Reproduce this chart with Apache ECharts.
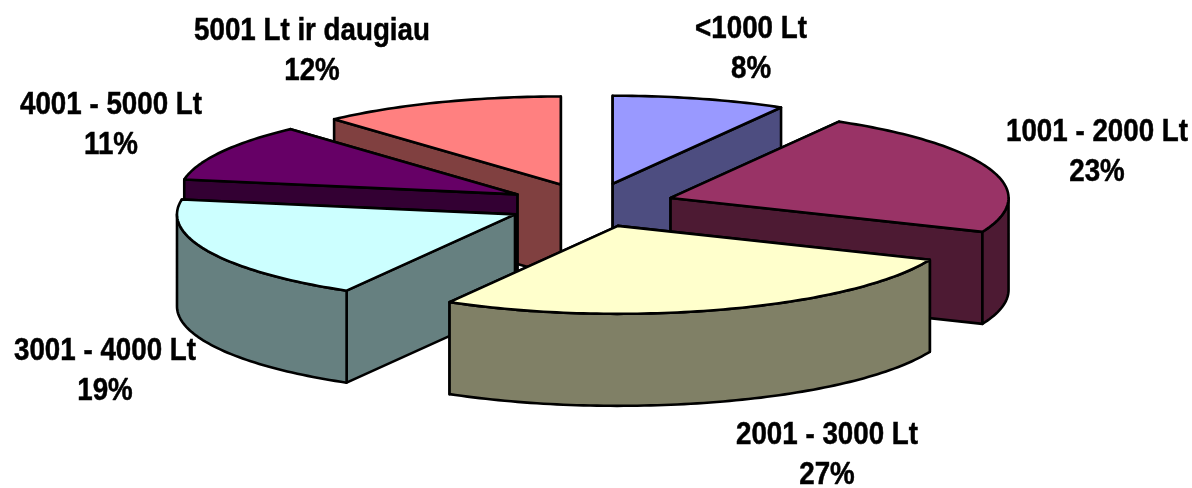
<!DOCTYPE html>
<html>
<head>
<meta charset="utf-8">
<style>html,body{margin:0;padding:0;background:#fff}#c{width:1192px;height:488px}</style>
<script src="https://cdn.jsdelivr.net/npm/echarts@6/dist/echarts.min.js"></script>
</head>
<body>
<div id="c"></div>
<script>
const categories = ['<1000 Lt', '1001 - 2000 Lt', '2001 - 3000 Lt', '3001 - 4000 Lt', '4001 - 5000 Lt', '5001 Lt ir daugiau'];
const shares = [8.3, 23.0, 27.0, 19.4, 10.6, 11.7];
const topColors = ['#9999FF', '#993366', '#FFFFCC', '#CCFFFF', '#660066', '#FF8080'];
const sideColors = ['#4D4D80', '#4D1A33', '#808066', '#668080', '#330033', '#804040'];

// Projection of the tilted, exploded pie
const cx = 591, cy = 205, rx = 338, ry = 88, depth = 92, explodeX = 84, explodeY = 22;
const labelCenters = [[751, 49], [1097, 152], [827, 455], [105, 371], [111, 125], [312, 51]];

const total = shares.reduce((a, b) => a + b, 0);
const starts = [];
shares.reduce((acc, v, i) => { starts[i] = acc; return acc + v; }, 0);
const rad = v => v / total * Math.PI * 2;

function apexOf(i) {
  const mid = rad(starts[i] + shares[i] / 2);
  return [cx + explodeX * Math.sin(mid), cy - explodeY * Math.cos(mid)];
}
const order = shares.map((_, i) => i).sort((a, b) => apexOf(a)[1] - apexOf(b)[1]);

function arc(apex, a0, a1, dy) {
  const pts = [];
  const n = Math.max(2, Math.ceil((a1 - a0) / 0.02));
  for (let k = 0; k <= n; k++) {
    const t = a0 + (a1 - a0) * k / n;
    pts.push([apex[0] + rx * Math.sin(t), apex[1] - ry * Math.cos(t) + dy]);
  }
  return pts;
}

function renderItem(params, api) {
  const i = params.dataIndex;
  const a0 = rad(starts[i]), a1 = rad(starts[i] + api.value(0));
  const apex = apexOf(i);
  const rank = order.indexOf(i);
  const top = arc(apex, a0, a1, 0);
  const first = top[0], last = top[top.length - 1];
  const drop = p => [p[0], p[1] + depth];
  const style = fill => ({ fill, stroke: '#000', lineWidth: 2.6, lineJoin: 'round' });
  const children = [];
  let z = rank * 10;
  const add = (points, fill) => children.push({
    type: 'polygon', z2: z++, shape: { points }, style: style(fill), silent: true
  });
  // Cut faces: the one whose rim point sits lower on screen faces the viewer, draw it last
  const edges = first[1] < last[1] ? [first, last] : [last, first];
  edges.forEach(p => add([apex, p, drop(p), drop(apex)], sideColors[i]));
  const w0 = Math.max(a0, Math.PI / 2), w1 = Math.min(a1, Math.PI * 1.5);
  if (w1 > w0) {
    const up = arc(apex, w0, w1, 0);
    const down = arc(apex, w0, w1, depth).reverse();
    add(up.concat(down), sideColors[i]);
  }
  add([apex].concat(top), topColors[i]);
  children.push({
    type: 'text', z2: 1000, silent: true,
    x: labelCenters[i][0], y: labelCenters[i][1], scaleX: 0.867, scaleY: 1,
    style: {
      text: categories[i] + '\n' + Math.round(api.value(0)) + '%',
      x: 0, y: 0, align: 'center', verticalAlign: 'middle', lineHeight: 40,
      fontFamily: '"Liberation Sans", Arial, sans-serif', fontWeight: 'bold', fontSize: 32, fill: '#000',
      stroke: '#000', lineWidth: 0.5
    }
  });
  return { type: 'group', children };
}

const chart = echarts.init(document.getElementById('c'), null, { renderer: 'canvas' });
chart.setOption({
  animation: false,
  backgroundColor: '#fff',
  series: [{
    type: 'custom',
    coordinateSystem: 'none',
    renderItem,
    data: shares.map(v => [v])
  }]
});
</script>
</body>
</html>
